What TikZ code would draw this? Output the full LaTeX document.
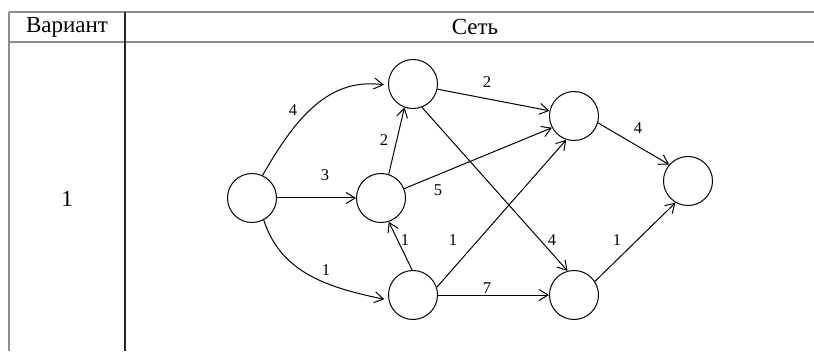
\documentclass[tikz,border=0pt]{standalone}
\usepackage{fontspec}
\setmainfont{Liberation Serif}
\usetikzlibrary{arrows.meta}

\begin{document}
\begin{tikzpicture}[x=1pt,y=1pt,
  vert/.style={circle,draw,line width=1pt,minimum size=49pt,inner sep=0pt},
  arc/.style={line width=1pt,-{Straight Barb[length=9pt,width=11pt,line width=1pt]}},
  wlabel/.style={font=\fontsize{16.5}{16.5}\selectfont,inner sep=0pt},
  hdr/.style={font=\fontsize{23}{23}\selectfont,inner sep=0pt},
  grid line/.style={line width=1.3pt,black!45},
  col line/.style={line width=1.1pt,black!85}]
\useasboundingbox (0,0) rectangle (814,351);

% table frame
\draw[grid line] (9,339) -- (814,339);
\draw[grid line] (9,309) -- (814,309);
\draw[grid line] (9,339) -- (9,0);
\draw[col line] (125,339) -- (125,0);

% table texts
\node[hdr] (hvar) at (67,324) {Вариант};
\node[hdr] (hnet) at (475,324) {Сеть};
\node[hdr] (var1) at (67,152) {1};

% network vertices
\node[vert] (A) at (252,153) {};
\node[vert] (B) at (413,267) {};
\node[vert] (C) at (381,153) {};
\node[vert] (D) at (413,56) {};
\node[vert] (E) at (574,235) {};
\node[vert] (F) at (574,56) {};
\node[vert] (G) at (688,170) {};

% arcs
\draw[arc] (A.65) to[out=60,in=172] ([xshift=-4pt]B.182);
\draw[arc] (A) -- (C);
\draw[arc] (A.-62) to[out=-72,in=168] ([xshift=-4pt]D.190);
\draw[arc] (C.72) -- (B.-110);
\draw[arc] (C.22) -- (E.-152);
\draw[arc] (D.92) -- (C.-72);
\draw[arc] (D.18) -- (E.-108);
\draw[arc] (D) -- (F);
\draw[arc] (B.-12) -- (E.168);
\draw[arc] (B.-69) -- (F.105);
\draw[arc] (E.-16) -- (G.139);
\draw[arc] (F.33) -- (G.-120);

% arc weights
\node[wlabel] (w1) at (293,241) {4};
\node[wlabel] (w2) at (325,176) {3};
\node[wlabel] (w3) at (326,81) {1};
\node[wlabel] (w4) at (384,211) {2};
\node[wlabel] (w5) at (438,161) {5};
\node[wlabel] (w6) at (405,111) {1};
\node[wlabel] (w7) at (453,111) {1};
\node[wlabel] (w8) at (487,63) {7};
\node[wlabel] (w9) at (552,111) {4};
\node[wlabel] (w10) at (617,111) {1};
\node[wlabel] (w11) at (487,269) {2};
\node[wlabel] (w12) at (638,223) {4};
\end{tikzpicture}
\end{document}
